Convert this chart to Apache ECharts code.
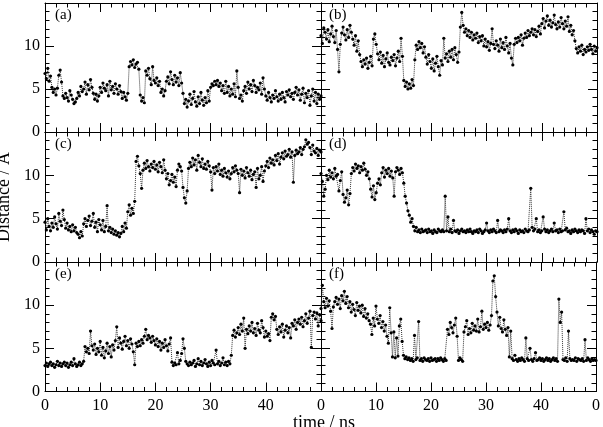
<!DOCTYPE html>
<html>
<head>
<meta charset="utf-8">
<script src="https://cdn.jsdelivr.net/npm/echarts@6/dist/echarts.min.js"></script>
<style>
  html, body { margin: 0; padding: 0; background: #fff; }
  #chart { width: 603px; height: 427px; }
</style>
</head>
<body>
<div id="chart"></div>
<script>
// sampling step of the traces, ns
const timeStep = 0.25;

// distance traces (Å), one value per 0.25 ns
const distA = [
  6.8, 6.2, 7.4, 5.9, 6.5, 5.2, 4.6, 5.0, 4.3, 5.1, 6.6, 7.2, 5.8, 4.2, 3.9, 4.5,
  4.0, 3.6, 4.8, 4.3, 3.8, 3.3, 3.5, 3.9, 4.6, 4.2, 5.3, 4.7, 5.0, 5.8, 4.4, 5.5,
  4.9, 6.1, 5.2, 4.5, 3.8, 4.4, 3.6, 4.2, 5.2, 4.6, 5.7, 5.1, 4.8, 5.5, 4.2, 5.9,
  4.9, 5.3, 4.5, 5.6, 5.0, 4.4, 5.4, 4.7, 3.9, 4.6, 4.1, 3.7, 4.5, 7.6, 8.2, 7.8,
  8.4, 7.5, 7.9, 8.1, 7.3, 4.3, 3.6, 4.0, 3.4, 7.1, 6.6, 7.4, 6.2, 5.5, 7.6, 6.0,
  5.7, 6.3, 5.4, 5.9, 4.6, 5.0, 4.2, 4.8, 5.9, 6.4, 5.6, 7.0, 6.1, 5.5, 6.6, 5.8,
  6.3, 5.4, 6.9, 5.7, 4.5, 3.3, 3.8, 2.9, 3.6, 4.4, 3.2, 3.9, 4.7, 3.5, 3.0, 4.1,
  3.3, 4.6, 3.7, 3.1, 4.0, 3.4, 4.8, 3.6, 5.2, 5.6, 5.4, 5.9, 5.5, 6.0, 5.3, 5.7,
  4.8, 5.4, 4.5, 5.9, 4.6, 5.3, 4.2, 5.0, 4.4, 5.6, 4.1, 7.1, 5.2, 3.9, 4.3, 3.6,
  4.8, 5.3, 4.5, 5.8, 5.0, 5.5, 4.7, 6.0, 5.4, 4.6, 5.2, 4.9, 5.7, 4.4, 6.3, 5.0,
  4.2, 3.7, 4.6, 4.0, 3.5, 4.3, 3.9, 4.8, 4.1, 3.6, 4.4, 3.8, 4.6, 4.0, 3.5, 4.7,
  4.3, 4.9, 4.1, 4.5, 3.8, 4.6, 5.2, 4.3, 4.9, 3.7, 4.4, 5.1, 3.4, 4.5, 4.0, 4.8,
  3.1, 4.2, 5.0, 3.6, 4.6, 3.3, 4.4, 3.8, 4.2
];
const distB = [
  11.2, 10.3, 12.1, 11.6, 10.8, 11.9, 10.5, 11.4, 12.3, 11.1, 10.4, 11.8, 9.6, 7.0, 10.2, 11.5,
  12.2, 11.3, 10.7, 11.9, 11.0, 12.4, 11.6, 10.8, 10.1, 11.2, 9.4, 10.6, 9.0, 8.2, 7.6, 8.4,
  7.9, 8.6, 7.4, 8.1, 8.8, 7.7, 10.8, 11.4, 10.2, 9.1, 8.4, 9.3, 8.0, 8.9, 7.6, 8.5,
  9.2, 8.1, 7.8, 8.7, 8.3, 9.0, 7.7, 8.6, 9.4, 8.2, 10.9, 8.8, 6.0, 5.3, 5.8, 5.0,
  5.6, 5.1, 6.1, 5.4, 8.4, 10.1, 9.6, 10.5, 9.8, 10.3, 9.2, 9.9, 8.7, 7.9, 9.0, 8.2,
  7.4, 8.5, 7.1, 8.0, 8.8, 7.6, 6.6, 8.3, 7.8, 10.9, 8.6, 9.1, 8.2, 9.4, 8.7, 9.6,
  8.4, 9.8, 9.0, 8.1, 9.3, 12.2, 13.9, 12.4, 11.6, 12.0, 11.2, 11.8, 11.0, 11.6, 10.7, 11.3,
  10.9, 11.5, 10.4, 11.1, 10.6, 11.2, 10.0, 10.8, 9.9, 10.5, 9.5, 10.3, 12.0, 10.2, 9.7, 10.6,
  10.1, 9.4, 10.8, 9.8, 10.4, 9.6, 11.0, 10.0, 9.2, 10.3, 8.6, 7.8, 10.2, 10.9, 10.4, 11.0,
  10.6, 11.3, 10.1, 10.9, 11.5, 11.0, 11.8, 11.2, 11.6, 12.0, 11.3, 11.9, 11.1, 11.7, 12.3, 11.4,
  12.6, 13.2, 12.1, 12.9, 13.5, 12.4, 13.0, 12.2, 12.7, 13.6, 12.5, 12.0, 12.8, 12.2, 13.3, 12.6,
  12.0, 12.9, 12.3, 13.4, 11.7, 12.4, 11.3, 11.8, 10.6, 9.7, 9.2, 9.9, 9.4, 10.1, 9.0, 9.6,
  9.3, 9.9, 9.5, 10.2, 9.6, 9.1, 10.0, 9.4, 9.8
];
const distC = [
  4.6, 3.7, 5.0, 4.1, 3.6, 4.5, 4.0, 5.2, 4.4, 3.8, 5.6, 4.7, 4.2, 6.0, 4.9, 3.9,
  4.5, 3.7, 4.1, 3.5, 4.3, 3.6, 4.0, 3.4, 3.2, 2.8, 3.5, 3.0, 4.4, 5.0, 4.1, 4.8,
  5.3, 4.2, 4.7, 5.6, 4.0, 4.6, 3.5, 4.9, 4.3, 3.7, 4.8, 3.5, 4.1, 6.5, 3.6, 4.0,
  3.4, 3.8, 3.2, 3.6, 3.1, 3.4, 2.9, 3.3, 4.1, 3.5, 4.5, 3.9, 5.8, 6.6, 5.4, 6.2,
  5.6, 7.0, 11.6, 12.2, 11.1, 10.2, 8.5, 10.6, 11.4, 10.8, 11.7, 11.0, 10.5, 11.3, 10.9, 11.6,
  10.7, 11.2, 10.4, 11.5, 11.0, 10.3, 11.8, 10.6, 9.6, 10.2, 8.9, 9.4, 10.1, 9.2, 9.8, 8.7,
  10.6, 11.3, 11.0, 10.5, 8.6, 7.4, 6.8, 8.2, 10.8, 11.5, 11.0, 12.0, 11.2, 11.8, 10.6, 12.3,
  11.5, 11.0, 11.9, 10.8, 11.3, 10.7, 11.6, 11.1, 10.4, 8.3, 10.9, 10.2, 11.0, 10.5, 11.3, 10.1,
  10.6, 9.9, 10.8, 10.3, 9.8, 10.5, 9.6, 10.2, 10.9, 10.4, 11.1, 10.6, 10.2, 8.0, 10.7, 10.0,
  10.5, 9.7, 10.9, 10.3, 9.9, 10.6, 9.5, 10.1, 10.4, 8.6, 10.8, 9.6, 10.0, 11.0, 9.3, 10.5,
  11.1, 11.6, 10.9, 12.0, 11.4, 11.8, 11.2, 12.3, 11.7, 12.5, 11.3, 12.1, 12.6, 11.9, 12.8, 12.2,
  12.4, 13.0, 12.1, 12.7, 9.2, 12.3, 12.9, 12.5, 12.7, 13.2, 12.4, 13.0, 13.3, 14.1, 13.6, 13.8,
  13.2, 12.4, 13.5, 12.8, 12.6, 13.1, 12.3, 12.9, 12.7
];
const distD = [
  10.2, 9.3, 7.6, 8.4, 10.0, 9.5, 10.6, 9.8, 10.3, 9.6, 10.8, 9.9, 10.1, 8.2, 9.4, 10.4,
  7.8, 6.9, 7.4, 8.3, 6.6, 7.9, 10.2, 10.9, 10.5, 11.3, 10.8, 11.1, 10.3, 11.0, 10.6, 11.4,
  10.7, 10.0, 10.4, 9.6, 8.4, 7.5, 8.8, 7.2, 8.0, 9.1, 9.6, 8.9, 10.3, 10.9, 9.8, 10.6,
  10.2, 10.8, 9.9, 10.5, 9.7, 7.6, 10.4, 10.9, 10.6, 10.1, 10.8, 10.3, 9.1, 7.6, 6.8, 5.9,
  5.4, 4.6, 5.0, 4.1, 3.6, 4.0, 3.5, 3.7, 3.4, 3.8, 3.5, 3.6, 3.7, 3.4, 3.8, 3.5,
  3.6, 3.3, 3.7, 3.5, 3.4, 3.8, 3.6, 3.5, 3.7, 3.5, 7.6, 3.6, 5.2, 3.5, 3.8, 3.4,
  4.8, 3.6, 3.5, 3.7, 3.3, 3.6, 3.8, 3.5, 3.6, 3.4, 3.7, 3.5, 3.8, 3.5, 3.3, 3.6,
  3.5, 3.7, 3.4, 3.8, 3.6, 3.3, 3.5, 3.7, 4.5, 3.6, 3.4, 3.7, 3.5, 3.8, 3.6, 3.4,
  4.8, 3.5, 3.7, 3.6, 3.4, 3.7, 3.5, 3.8, 5.0, 3.6, 3.4, 3.7, 3.5, 3.8, 3.6, 3.3,
  3.7, 3.5, 3.6, 3.4, 3.8, 3.6, 3.5, 3.7, 8.5, 4.0, 3.6, 3.8, 5.0, 3.5, 3.7, 3.4,
  3.6, 5.2, 3.8, 3.5, 3.7, 3.4, 3.6, 3.8, 3.5, 4.5, 3.6, 3.7, 3.4, 3.8, 3.5, 3.6,
  5.8, 3.7, 3.9, 3.5, 3.6, 3.3, 3.7, 3.5, 3.8, 3.6, 3.4, 3.7, 3.5, 3.7, 3.6, 3.3,
  5.0, 3.6, 3.8, 3.4, 3.7, 3.5, 3.2, 3.6, 3.5
];
const distE = [
  3.0, 3.3, 2.9, 3.2, 3.4, 3.0, 3.2, 2.8, 3.1, 3.5, 3.0, 3.3, 2.9, 3.2, 3.4, 3.0,
  3.3, 2.8, 3.1, 3.4, 3.0, 3.8, 3.2, 2.9, 3.1, 3.4, 3.0, 3.2, 3.5, 5.2, 4.6, 5.0,
  4.4, 7.0, 5.3, 4.8, 5.5, 4.3, 5.0, 4.6, 5.8, 4.2, 5.1, 3.9, 4.7, 5.6, 4.4, 5.2,
  4.0, 5.4, 4.8, 5.9, 7.5, 5.1, 6.2, 5.6, 4.9, 5.8, 6.4, 5.3, 5.9, 5.0, 6.1, 5.5,
  4.6, 3.1, 5.6, 5.2, 5.8, 5.3, 6.0, 5.6, 6.4, 7.2, 6.0, 6.5, 6.2, 5.7, 6.4, 5.9,
  5.4, 6.1, 5.2, 5.8, 4.8, 5.6, 5.1, 6.0, 5.3, 4.7, 5.5, 6.2, 3.4, 3.0, 3.3, 3.1,
  4.5, 3.2, 3.6, 4.4, 6.1, 5.0, 3.5, 3.2, 3.0, 3.4, 3.1, 3.3, 3.6, 2.9, 3.2, 3.8,
  3.1, 3.5, 3.0, 3.3, 3.7, 3.2, 2.9, 3.4, 3.0, 3.6, 3.3, 3.1, 4.8, 3.2, 3.5, 3.0,
  3.3, 3.9, 3.1, 3.4, 3.0, 3.5, 3.2, 4.2, 6.5, 7.1, 6.3, 6.8, 7.4, 6.6, 7.8, 7.0,
  8.5, 5.0, 7.2, 6.7, 7.6, 7.0, 8.0, 6.8, 7.3, 6.5, 7.9, 7.1, 6.8, 8.2, 7.4, 6.3,
  7.0, 6.4, 6.7, 5.9, 8.6, 9.0, 8.3, 8.7, 7.2, 6.6, 7.5, 6.9, 7.8, 6.3, 7.1, 7.6,
  6.8, 7.4, 6.2, 7.9, 7.6, 8.3, 7.2, 8.0, 8.4, 7.8, 8.6, 7.5, 8.2, 9.0, 7.9, 8.5,
  9.3, 5.1, 8.8, 9.2, 8.4, 9.1, 7.6, 8.9, 8.2
];
const distF = [
  9.6, 12.3, 10.4, 9.7, 10.8, 9.9, 10.5, 9.3, 7.3, 9.8, 10.4, 10.9, 10.1, 10.7, 9.6, 11.1,
  10.5, 11.6, 10.2, 11.0, 9.7, 10.4, 9.2, 10.1, 9.5, 8.8, 10.3, 9.4, 9.9, 9.1, 10.0, 8.7,
  9.6, 8.5, 9.0, 8.2, 7.8, 6.6, 8.5, 7.6, 9.9, 8.4, 7.9, 8.8, 7.4, 8.1, 7.0, 7.7,
  6.4, 5.6, 9.7, 6.8, 4.0, 6.9, 3.9, 6.2, 4.1, 7.6, 8.4, 5.8, 4.2, 3.8, 4.0, 3.7,
  3.9, 3.6, 3.8, 3.5, 6.5, 3.7, 3.9, 8.1, 3.6, 3.8, 3.5, 3.9, 3.7, 3.6, 3.8, 3.5,
  3.9, 3.6, 3.7, 3.8, 3.5, 3.8, 3.6, 3.9, 3.7, 3.5, 3.8, 3.6, 7.2, 6.6, 8.0, 7.4,
  6.8, 7.7, 8.5, 6.4, 3.6, 3.9, 3.7, 3.5, 6.9, 7.5, 8.2, 6.6, 7.3, 6.8, 7.9, 7.1,
  7.6, 7.0, 8.4, 6.9, 7.5, 9.3, 7.2, 7.8, 7.4, 8.0, 7.1, 7.7, 8.8, 12.8, 13.4, 11.0,
  9.2, 7.6, 8.6, 7.3, 6.9, 8.3, 7.2, 6.5, 7.4, 4.0, 7.0, 3.8, 3.6, 4.2, 3.7, 3.5,
  3.8, 3.6, 3.9, 3.7, 3.5, 6.2, 3.8, 3.6, 5.0, 3.7, 3.5, 3.8, 4.5, 3.6, 3.7, 3.9,
  3.6, 3.8, 3.5, 3.7, 3.9, 3.6, 3.8, 3.5, 3.7, 3.9, 3.6, 3.8, 3.5, 10.7, 8.0, 9.2,
  3.7, 3.6, 3.9, 3.5, 7.0, 3.8, 3.6, 3.7, 3.6, 3.9, 3.5, 3.8, 3.7, 3.6, 3.8, 3.5,
  6.0, 3.6, 3.9, 3.7, 3.5, 3.8, 3.6, 3.7, 3.6
];

const panelNames = ['(a)', '(b)', '(c)', '(d)', '(e)', '(f)'];
const panelData = [distA, distB, distC, distD, distE, distF];

const xTicks = [0, 10, 20, 30, 40, 50];
const yTicks = [0, 5, 10, 15];

const FONT = '"Liberation Serif", "Times New Roman", serif';
const colLeft = [45, 321];
const rowTop = [3, 132, 262];
const rowH = [129, 130, 129.5];

let chart = echarts.init(document.getElementById('chart'))

let grids = [], xAxes = [], yAxes = [], series = [], graphics = []
let axLine = { show: true, onZero: false, lineStyle: { color: '#000', width: 1 } }
let axTick = { show: true, inside: true, length: 9, lineStyle: { color: '#000', width: 1 } }
let axMinor = { show: true, splitNumber: 5, length: 4.5, lineStyle: { color: '#000', width: 1 } }

panelData.forEach(function (vals, i) {
  let col = i % 2
  let row = Math.floor(i / 2)
  grids.push({ left: colLeft[col], top: rowTop[row], width: 276, height: rowH[row], containLabel: false })

  let showX = row === 2
  ;['bottom', 'top'].forEach(function (pos) {
    xAxes.push({
      gridIndex: i, type: 'value', position: pos,
      min: xTicks[0], max: xTicks[xTicks.length - 1], interval: 10,
      axisLine: axLine, axisTick: axTick, minorTick: axMinor,
      splitLine: { show: false },
      axisLabel: {
        show: showX && pos === 'bottom', margin: 6, color: '#000',
        fontFamily: FONT, fontSize: 16,
        showMaxLabel: col === 1,
        // the right-hand panel's last label reads "0" in the figure
        formatter: function (v) { return v === 50 ? '0' : String(v) }
      }
    })
  })
  ;['left', 'right'].forEach(function (pos) {
    yAxes.push({
      gridIndex: i, type: 'value', position: pos,
      min: yTicks[0], max: yTicks[yTicks.length - 1], interval: 5,
      axisLine: axLine, axisTick: axTick, minorTick: axMinor,
      splitLine: { show: false },
      axisLabel: {
        show: col === 0 && pos === 'left', margin: 5, color: '#000',
        fontFamily: FONT, fontSize: 16, showMaxLabel: false
      }
    })
  })

  series.push({
    type: 'line',
    xAxisIndex: 2 * i,
    yAxisIndex: 2 * i,
    data: vals.map(function (v, k) { return [k * timeStep, v] }),
    symbol: 'circle',
    symbolSize: 3.2,
    showSymbol: true,
    itemStyle: { color: '#000' },
    lineStyle: { color: '#333', width: 1, type: 'dotted' },
    emphasis: { disabled: true },
    animation: false
  })

  graphics.push({
    type: 'text',
    x: colLeft[col] + 10 - (col === 1 ? 2 : 0),
    y: rowTop[row] + 5,
    style: { text: panelNames[i], font: '15px ' + FONT, fill: '#000', textAlign: 'left', textVerticalAlign: 'top' }
  })
})

graphics.push({
  type: 'text', x: 13, y: 197, rotation: Math.PI / 2,
  style: { text: 'Distance / Å', font: '18px ' + FONT, fill: '#000', textAlign: 'center', textVerticalAlign: 'bottom' }
})
graphics.push({
  type: 'text', x: 324, y: 414,
  style: { text: 'time / ns', font: '18px ' + FONT, fill: '#000', textAlign: 'center', textVerticalAlign: 'top' }
})

chart.setOption({
  backgroundColor: '#fff',
  animation: false,
  grid: grids,
  xAxis: xAxes,
  yAxis: yAxes,
  series: series,
  graphic: graphics
})
</script>
</body>
</html>
